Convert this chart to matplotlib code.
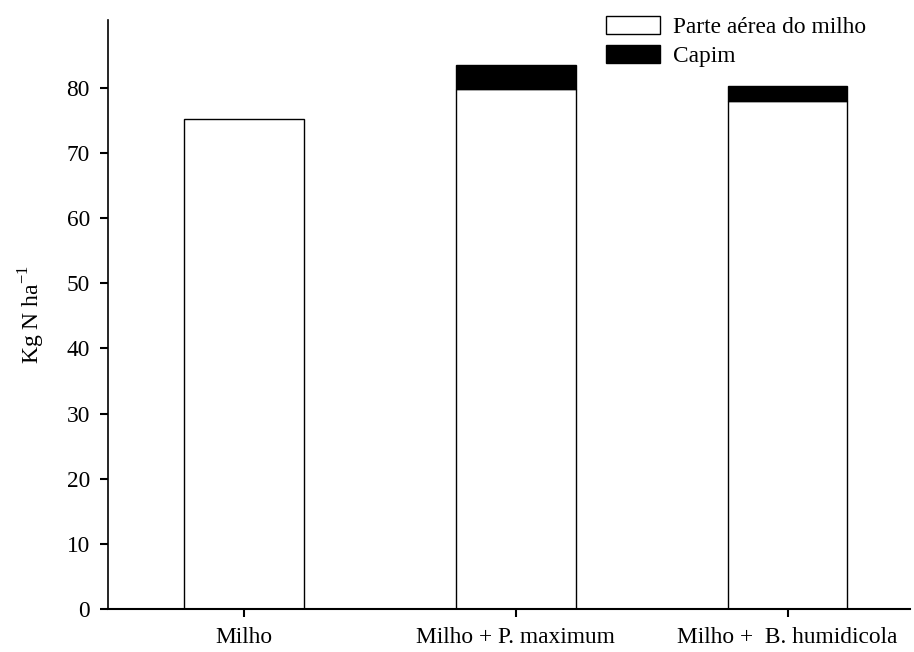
import matplotlib
matplotlib.use("Agg")
import matplotlib.pyplot as plt
import numpy as np

categories = ["Milho", "Milho + P. maximum", "Milho +  B. humidicola"]
parte_aerea = [75.2, 79.8, 78.0]
capim = [0.0, 3.7, 2.2]
yticks = [0, 10, 20, 30, 40, 50, 60, 70, 80]

plt.rcParams['font.family'] = ['Liberation Serif', 'DejaVu Serif']
fig = plt.figure(figsize=(9.14, 6.52), dpi=100)
ax = fig.add_axes([108/914, 1-609/652, (910-108)/914, (609-20)/652])

x = np.arange(len(categories))
w = 0.44
ax.bar(x, parte_aerea, w, color='white', edgecolor='black', linewidth=1.0, label='Parte aérea do milho')
ax.bar(x[1:], capim[1:], w, bottom=parte_aerea[1:], color='black', edgecolor='black', linewidth=1.0, label='Capim')

ax.set_xlim(-0.5, 2.45)
ax.set_ylim(0, 90.4)
ax.set_yticks(yticks)
ax.set_xticks(x)
ax.set_xticklabels(categories)
ax.tick_params(axis='both', direction='out', length=6, width=1.5, labelsize=16.8, pad=7)
for s in ['top', 'right']:
    ax.spines[s].set_visible(False)
ax.spines['left'].set_linewidth(1.2)
ax.spines['bottom'].set_linewidth(1.5)
ax.set_ylabel('Kg N ha$^{\\mathregular{-1}}$', fontsize=17, labelpad=14)

leg = ax.legend(loc='upper left', bbox_to_anchor=(590/914, 1.0), bbox_transform=fig.transFigure,
                frameon=False, fontsize=16.8, handlelength=2.3, handleheight=0.8,
                handletextpad=0.55, labelspacing=0.3, borderaxespad=0.3)

fig.savefig('out.png', dpi=100)
